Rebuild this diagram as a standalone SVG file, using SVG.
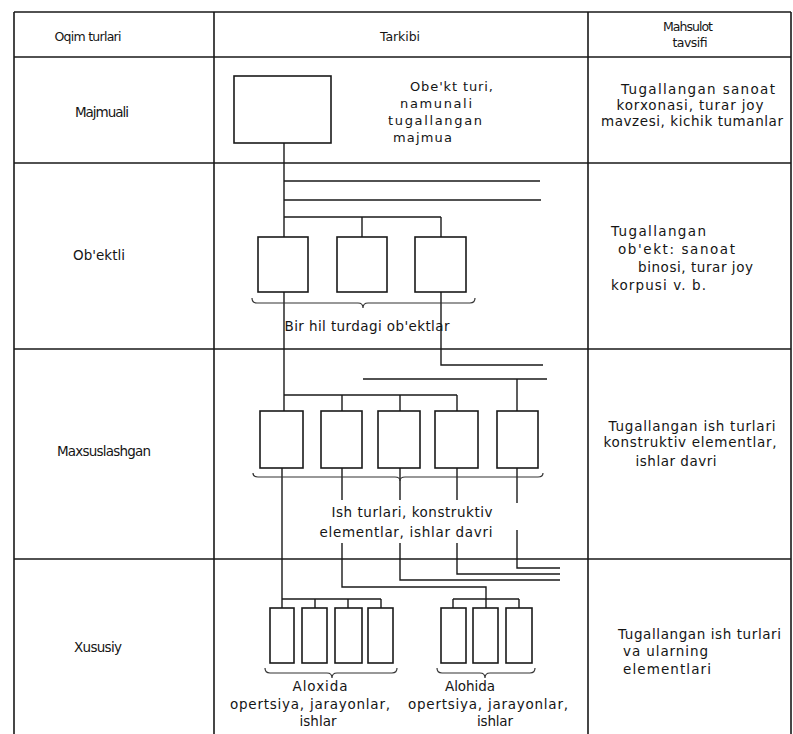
<svg xmlns="http://www.w3.org/2000/svg" width="793" height="734" viewBox="0 0 793 734">
<style>
.t{font-family:"DejaVu Sans","Liberation Sans",sans-serif;font-size:13.5px;fill:#151515}
.h{font-size:12.5px}
.s{font-size:13px}
.m{text-anchor:middle}
.grid{stroke:#1a1a1a;stroke-width:1.6;fill:none}
.box{fill:#fff;stroke:#1a1a1a;stroke-width:1.6}
.ln{stroke:#1a1a1a;stroke-width:1.4;fill:none}
.br{stroke:#333;stroke-width:1.2;fill:none}
</style>
<rect width="793" height="734" fill="#fff"/>
<g id="table">
<path class="grid" d="M14 12 H791 M14 57 H791 M14 163 H791 M14 349 H791 M14 559 H791 M14 12 V734 M214 12 V734 M588 12 V734 M791 12 V734"/>
</g>
<g id="header">
<text class="t h m" x="88" y="41" textLength="67">Oqim turlari</text>
<text class="t h m" x="400" y="41" textLength="40">Tarkibi</text>
<text class="t h m" x="688" y="31" textLength="50">Mahsulot</text>
<text class="t h m" x="690" y="47" textLength="35">tavsifi</text>
</g>
<g id="row-labels">
<text class="t m" x="102" y="117" textLength="54">Majmuali</text>
<text class="t m" x="99" y="260" textLength="52">Ob'ektli</text>
<text class="t m" x="104" y="456" textLength="94">Maxsuslashgan</text>
<text class="t m" x="98" y="652" textLength="48">Xususiy</text>
</g>
<g id="descriptions">
<text class="t m" x="698" y="94" textLength="154">Tugallangan sanoat</text>
<text class="t m" x="690" y="110" textLength="147">korxonasi, turar joy</text>
<text class="t m" x="692" y="126" textLength="182">mavzesi, kichik tumanlar</text>
<text class="t" x="611" y="236" textLength="95">Tugallangan</text>
<text class="t" x="618" y="254" textLength="117">ob'ekt: sanoat</text>
<text class="t" x="638" y="272" textLength="115">binosi, turar joy</text>
<text class="t" x="611" y="290" textLength="95">korpusi  v. b.</text>
<text class="t m" x="692" y="431" textLength="167">Tugallangan ish turlari</text>
<text class="t m" x="690" y="447" textLength="173">konstruktiv elementlar,</text>
<text class="t m" x="676" y="466" textLength="81">ishlar davri</text>
<text class="t" x="618" y="639" textLength="163">Tugallangan ish turlari</text>
<text class="t" x="623" y="656" textLength="85">va ularning</text>
<text class="t" x="623" y="674" textLength="88">elementlari</text>
</g>
<g id="connectors">
<path class="ln" d="M284 143 V237 M284 292 V411 M282 468 V599"/>
<path class="ln" d="M284 181 H540 M284 200 H541 M284 217 H441 M362 217 V237 M441 217 V237"/>
<path class="ln" d="M441 292 V365 H543"/>
<path class="ln" d="M363 379 H547 M517 379 V411"/>
<path class="ln" d="M284 395 H457 M342 395 V411 M400 395 V411 M457 395 V411"/>
<path class="ln" d="M342 468 V500 M342 543 V587 H486 V599"/>
<path class="ln" d="M400 468 V500 M400 543 V580 H560"/>
<path class="ln" d="M457 468 V500 M457 543 V574 H560"/>
<path class="ln" d="M517 468 V503 M517 530 V568 H560"/>
<path class="ln" d="M282 599 H381 M282 599 V608 M315 599 V608 M348 599 V608 M381 599 V608"/>
<path class="ln" d="M453 599 H519 M453 599 V608 M486 599 V608 M519 599 V608"/>
</g>
<g id="node-majmua">
<rect class="box" x="234" y="76" width="97" height="67"/>
<text class="t s" x="410" y="91" textLength="83">Obe'kt turi,</text>
<text class="t s" x="400" y="108" textLength="72">namunali</text>
<text class="t s" x="388" y="125" textLength="94">tugallangan</text>
<text class="t s" x="393" y="142" textLength="59">majmua</text>
</g>
<g id="node-obekt-group">
<rect class="box" x="258" y="237" width="50" height="55"/>
<rect class="box" x="337" y="237" width="50" height="55"/>
<rect class="box" x="415" y="237" width="51" height="55"/>
<path class="br" d="M252 298 Q252 303 257 303 H358 Q363 303 363 308 Q363 303 368 303 H470 Q475 303 475 298"/>
<text class="t m" x="367" y="331" textLength="165">Bir hil turdagi ob'ektlar</text>
</g>
<g id="node-maxsus-group">
<rect class="box" x="260" y="411" width="43" height="57"/>
<rect class="box" x="321" y="411" width="41" height="57"/>
<rect class="box" x="378" y="411" width="42" height="57"/>
<rect class="box" x="435" y="411" width="43" height="57"/>
<rect class="box" x="497" y="411" width="41" height="57"/>
<path class="br" d="M253 473 Q253 477 258 477 H395 Q400 477 400 481 Q400 477 405 477 H538 Q543 477 543 473"/>
<text class="t m" x="412" y="517" textLength="161">Ish turlari, konstruktiv</text>
<text class="t m" x="406" y="537" textLength="173">elementlar, ishlar davri</text>
</g>
<g id="node-xususiy-left">
<rect class="box" x="270" y="608" width="24" height="55"/>
<rect class="box" x="302" y="608" width="25" height="55"/>
<rect class="box" x="335" y="608" width="27" height="55"/>
<rect class="box" x="368" y="608" width="25" height="55"/>
<path class="br" d="M265 668 Q265 673 270 673 H327 Q332 673 332 678 Q332 673 337 673 H392 Q397 673 397 668"/>
<text class="t m" x="320" y="691" textLength="55">Aloxida</text>
<text class="t m" x="310" y="709" textLength="160">opertsiya, jarayonlar,</text>
<text class="t m" x="318" y="726" textLength="37">ishlar</text>
</g>
<g id="node-xususiy-right">
<rect class="box" x="441" y="608" width="25" height="55"/>
<rect class="box" x="473" y="608" width="25" height="55"/>
<rect class="box" x="506" y="608" width="26" height="55"/>
<path class="br" d="M437 668 Q437 673 442 673 H480 Q485 673 485 678 Q485 673 490 673 H530 Q535 673 535 668"/>
<text class="t m" x="470" y="691" textLength="50">Alohida</text>
<text class="t m" x="488" y="709" textLength="160">opertsiya, jarayonlar,</text>
<text class="t m" x="495" y="726" textLength="36">ishlar</text>
</g>
</svg>
